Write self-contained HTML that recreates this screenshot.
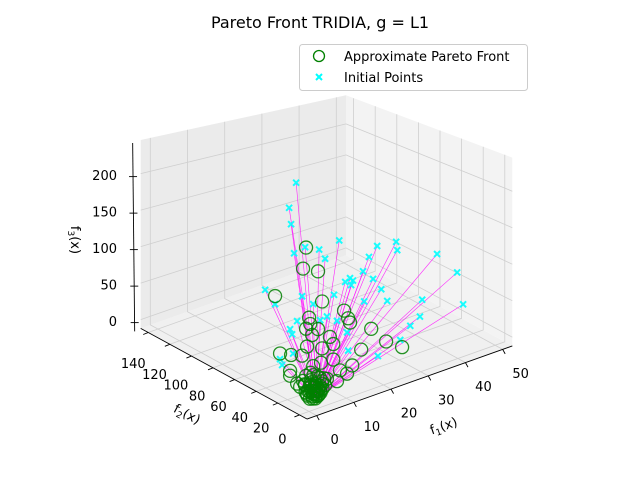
<!DOCTYPE html>
<html><head><meta charset="utf-8"><style>
html,body{margin:0;padding:0;background:#fff;}
svg{display:block;font-family:"DejaVu Sans","Liberation Sans",sans-serif;}
</style></head><body>
<svg id="chart" width="640" height="480" viewBox="0 0 640 480" xmlns="http://www.w3.org/2000/svg">
<rect width="640" height="480" fill="#fff"/>
<text x="320" y="28" text-anchor="middle" font-size="16" fill="#000">Pareto Front TRIDIA, g = L1</text>
<g id="panes"></g>
<g id="grid"></g>
<g id="axes"></g>
<g id="links"></g>
<g id="inits"></g>
<g id="paretos"></g>
<text x="0" y="0" font-size="13" transform="translate(445,430) rotate(-19)" text-anchor="middle">f<tspan font-size="9" dy="3">1</tspan><tspan dy="-3">(x)</tspan></text>
<text x="0" y="0" font-size="13" transform="translate(185,418) rotate(28)" text-anchor="middle">f<tspan font-size="9" dy="3">2</tspan><tspan dy="-3">(x)</tspan></text>
<text x="0" y="0" font-size="13" transform="translate(71,240) rotate(90)" text-anchor="middle">f<tspan font-size="9" dy="3">3</tspan><tspan dy="-3">(x)</tspan></text>
<g>
<rect x="299.5" y="44.5" width="228" height="46" rx="3" fill="#fff" fill-opacity="0.8" stroke="#ccc"/>
<circle cx="319" cy="56" r="5.5" fill="none" stroke="#008000" stroke-width="1.3"/>
<text x="344" y="61" font-size="13">Approximate Pareto Front</text>
<path d="M316,74 L322,80 M322,74 L316,80" stroke="#00ffff" stroke-width="2"/>
<text x="344" y="82" font-size="13">Initial Points</text>
</g>
</svg>
<script>
const initF1=[0,0,0,0,0,2.7,4.3,8.1,18.3,23.4,23.7,34.4,39.8,41.4,16.1,14.5,17.2,11.0,11.3,19.4,21.0,14.8,30.4,29.8,27.2,24.5,18.5,10.5,6.7,4.8,1.1,0,0,0,0,3.0,0,0,0,0,0,7.5,10.2,11.8,9.7];
const initF2=[12,18.5,16.7,13.9,3.7,0,0,0,0,0,0,0,0,0,0,0,0,0,0,0,0,0,0,0,0,0,0,0,0,0,0,6.5,40.7,31.5,11.1,0,17.6,15.7,14.8,26.9,25,0,0,0,0];
const initF3=[258,224,205,171,184,180,167,185,166,165,154,135,103,58,155,139,126,135,126,110,93,101,81,60,52,38,27,46,120,96,116,123,110,98,90,94,76,71,48,33,27,87,69,131,132];
const parF1=[0,0,2.4,0,3.5,9.4,10.5,11.0,0,0.3,0,2.4,0.8,16.7,20.7,25,14,0,0,3.5,6.5,5.6,0,0,3.2,6.5,11.6,8.3,10.2,0,0,0,7.5,4.8,1.1,0,0.3,1.6,3.0,0,1.1,2.4,0,3.5,0.5,0,0,4.3,0.5,1.5,2.5,3.5,0,0.8,2,3,1.2,2.2,0,1.8,4,0.4,2.8,0.2,0.9,1.4,1.9,2.6,3.1,0.6,1.2,2.0,0,0,1.0,2.3,3.6,0.4,1.7,2.9,0.7,1.3];
const parF2=[2.8,5.6,0,31.5,0,0,0,0,0,0,2.8,0,0,0,0,0,0,1.9,6.5,0,0,0,26.9,16.7,0,0,0,0,0,17.6,17.6,11.1,0,0,0,3.7,0,0,0,0.9,0,0,5.6,0,0,2.8,8.3,0,1,0,0,0,4,0,0,0,0,0,2,0,0,0,0,0,0,0,0,0,0,0,0,0,1.5,3.2,0,0,0,0,0,0,0,0];
const parF3=[184,157,154,108,116,97,86,80,101,93,86,84,79,64,42,28,42,65,51,59,60,70,40,45,42,41,26,25,18,25,19,14,13,20,41,17,17,19,12,12,8,9,21,19,25,29,12,13,10,14,11,16,18,22,6,8,30,27,8,4,22,34,15,3,5,7,9,4,6,12,14,16,6,9,2,3,10,20,1,24,18,11];
const f1Ticks=[0,10,20,30,40,50];
const f2Ticks=[0,20,40,60,80,100,120,140];
const f3Ticks=[0,50,100,150,200];

const F1MIN=-2.6,F1MAX=52.6,F2MIN=-7,F2MAX=147,ZMIN=-12,ZMAX=246;
const NS="http://www.w3.org/2000/svg";
function P(f1,f2,z){
  const t=((F1MAX-f1)/(F1MAX-F1MIN)+(F2MAX-f2)/(F2MAX-F2MIN))/2;
  const s=0.62+0.22*t;
  return [309.1+3.72*f1-1.08*f2, 401.5-1.3*f1-0.58*f2-s*z];
}
function mk(tag,attrs,parent){const e=document.createElementNS(NS,tag);for(const k in attrs)e.setAttribute(k,attrs[k]);parent.appendChild(e);return e;}
function poly(pts){return pts.map(p=>p[0].toFixed(1)+','+p[1].toFixed(1)).join(' ');}
const panes=document.getElementById('panes'),grid=document.getElementById('grid'),axes=document.getElementById('axes');
let e;
e=mk('polygon',{points:poly([P(F1MIN,F2MIN,ZMIN),P(F1MAX,F2MIN,ZMIN),P(F1MAX,F2MAX,ZMIN),P(F1MIN,F2MAX,ZMIN)]),fill:'#f0f0f0'},panes);


e=mk('polygon',{points:poly([P(F1MIN,F2MAX,ZMIN),P(F1MAX,F2MAX,ZMIN),P(F1MAX,F2MAX,ZMAX),P(F1MIN,F2MAX,ZMAX)]),fill:'#ebebeb'},panes);


e=mk('polygon',{points:poly([P(F1MAX,F2MIN,ZMIN),P(F1MAX,F2MAX,ZMIN),P(F1MAX,F2MAX,ZMAX),P(F1MAX,F2MIN,ZMAX)]),fill:'#f3f3f3'},panes);


function gl(pts,name){const el=mk('polyline',{points:poly(pts),fill:'none',stroke:'#cfcfcf','stroke-width':0.8},grid);
  
  }
f1Ticks.forEach(v=>gl([P(v,F2MIN,ZMIN),P(v,F2MAX,ZMIN),P(v,F2MAX,ZMAX)],'grid-f1-'+v));
f2Ticks.forEach(v=>gl([P(F1MIN,v,ZMIN),P(F1MAX,v,ZMIN),P(F1MAX,v,ZMAX)],'grid-f2-'+v));
f3Ticks.forEach(v=>gl([P(F1MIN,F2MAX,v),P(F1MAX,F2MAX,v),P(F1MAX,F2MIN,v)],'grid-f3-'+v));
function line(a,b,name,w){const el=mk('line',{x1:a[0],y1:a[1],x2:b[0],y2:b[1],stroke:'#000','stroke-width':w||0.9},axes);
  
  }
line(P(F1MIN,F2MIN,ZMIN),P(F1MAX,F2MIN,ZMIN),'x-axis-line');
line(P(F1MIN,F2MIN,ZMIN),P(F1MIN,F2MAX,ZMIN),'y-axis-line');
{const a=P(F1MIN,F2MAX,ZMIN),b=P(F1MIN,F2MAX,ZMAX);line([a[0]-6,a[1]+3],[b[0]-8,b[1]+3],'z-axis-line');}
function lab(x,y,txt,anchor,name){const t=mk('text',{x:x,y:y,'font-size':13,'text-anchor':anchor,'dominant-baseline':'central'},axes);t.textContent=txt;
  
  }
f1Ticks.forEach(v=>{const p=P(v,F2MIN,ZMIN);line(p,[p[0]+2.5,p[1]+4.5],'x-tick-'+v);lab(p[0]+18,p[1]+25,String(v),'middle','x-tick-label-'+v);});
f2Ticks.forEach(v=>{const p=P(F1MIN,v,ZMIN);const f=v/140;line(p,[p[0]-5,p[1]+2],'y-tick-'+v);lab(p[0]-17+2*f,p[1]+25+7*f,String(v),'middle','y-tick-label-'+v);});
f3Ticks.forEach(v=>{const p=P(F1MIN,F2MAX,v);const x=p[0]-6-(v/ZMAX)*2,y=p[1]+3;line([x-4,y],[x+4,y],'z-tick-'+v);lab(117,y,String(v),'end','z-tick-label-'+v);});
const links=document.getElementById('links'),inits=document.getElementById('inits'),pars=document.getElementById('paretos');
for(let i=0;i<initF1.length;i++){
  let best=-1,bd=1e9;
  for(let j=0;j<parF1.length;j++){
    if(parF3[j]>=initF3[i]*0.4)continue;
    const d=Math.hypot((initF1[i]-parF1[j])*3,(initF2[i]-parF2[j])*1.2)+3*parF3[j]+((i*7+j*3)%11);
    if(d<bd){bd=d;best=j;}
  }
  if(best>=0){
    const a=P(initF1[i],initF2[i],initF3[i]),b=P(parF1[best],parF2[best],parF3[best]);
    const l=mk('line',{x1:a[0],y1:a[1],x2:b[0],y2:b[1],stroke:'#ff00ff','stroke-width':0.6,'stroke-opacity':0.85},links);
    
    
  }
}
for(let i=0;i<initF1.length;i++){
  const p=P(initF1[i],initF2[i],initF3[i]);const r=3;
  const m=mk('path',{d:`M${p[0]-r},${p[1]-r}L${p[0]+r},${p[1]+r}M${p[0]+r},${p[1]-r}L${p[0]-r},${p[1]+r}`,stroke:'#00ffff','stroke-width':2,'stroke-opacity':0.9},inits);
  
  
}
for(let i=0;i<parF1.length;i++){
  const p=P(parF1[i],parF2[i],parF3[i]);
  const c=mk('circle',{cx:p[0],cy:p[1],r:6.5,fill:'none',stroke:'#008000','stroke-width':1.3,'stroke-opacity':0.85},pars);
  
  
}
</script>
</body></html>
